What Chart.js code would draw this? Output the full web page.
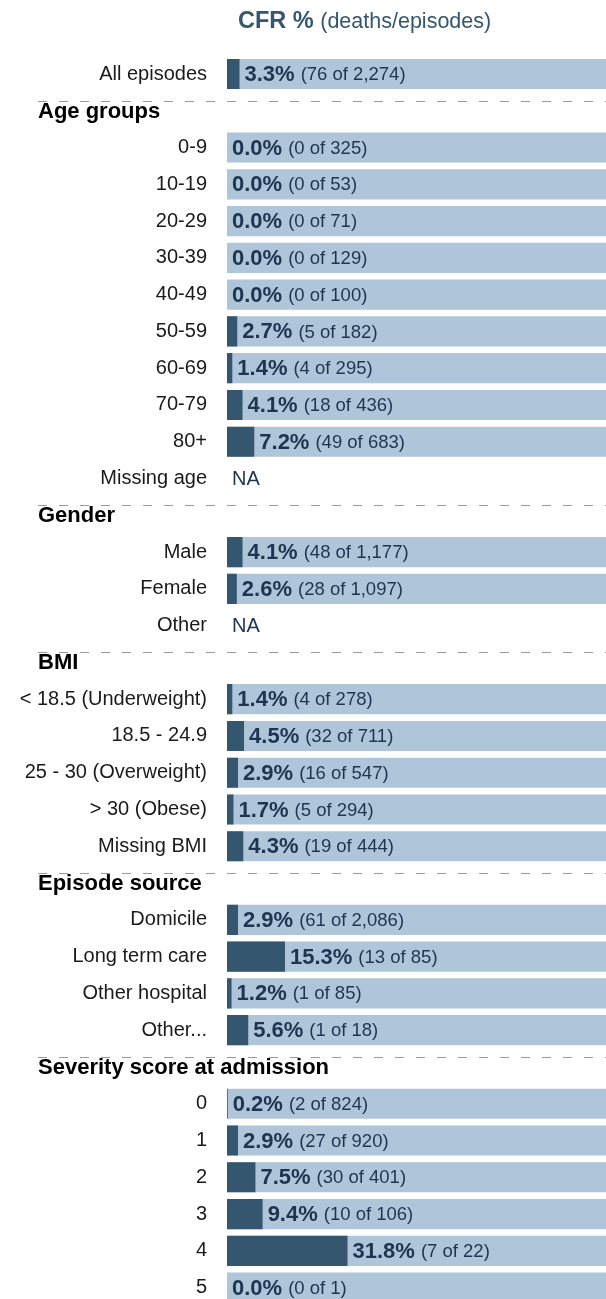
<!DOCTYPE html>
<html>
<head>
<meta charset="utf-8">
<script src="https://cdn.jsdelivr.net/npm/chart.js@4.4.0/dist/chart.umd.min.js"></script>
<style>
  html, body { margin: 0; padding: 0; background: #fff; overflow: hidden; }
  #frame { width: 606px; height: 1299px; overflow: hidden; position: relative; }
  canvas { display: block; }
</style>
</head>
<body>
<div id="frame"><canvas id="chart" width="606" height="1338"></canvas></div>
<script>
// rows top to bottom; section headers sit in their own row
const categories = [
  "All episodes",
  "Age groups", "0-9", "10-19", "20-29", "30-39", "40-49", "50-59", "60-69", "70-79", "80+", "Missing age",
  "Gender", "Male", "Female", "Other",
  "BMI", "< 18.5 (Underweight)", "18.5 - 24.9", "25 - 30 (Overweight)", "> 30 (Obese)", "Missing BMI",
  "Episode source", "Domicile", "Long term care", "Other hospital", "Other...",
  "Severity score at admission", "0", "1", "2", "3", "4", "5"
];
const headerRows = ["Age groups", "Gender", "BMI", "Episode source", "Severity score at admission"];

// null = header row or NA
const cfrPct = [
  3.3,
  null, 0.0, 0.0, 0.0, 0.0, 0.0, 2.7, 1.4, 4.1, 7.2, null,
  null, 4.1, 2.6, null,
  null, 1.4, 4.5, 2.9, 1.7, 4.3,
  null, 2.9, 15.3, 1.2, 5.6,
  null, 0.2, 2.9, 7.5, 9.4, 31.8, 0.0
];
const deaths = [
  76,
  null, 0, 0, 0, 0, 0, 5, 4, 18, 49, null,
  null, 48, 28, null,
  null, 4, 32, 16, 5, 19,
  null, 61, 13, 1, 1,
  null, 2, 27, 30, 10, 7, 0
];
const episodes = [
  2274,
  null, 325, 53, 71, 129, 100, 182, 295, 436, 683, null,
  null, 1177, 1097, null,
  null, 278, 711, 547, 294, 444,
  null, 2086, 85, 85, 18,
  null, 824, 920, 401, 106, 22, 1
];

const FONT = '"Liberation Sans", Arial, Helvetica, sans-serif';
const DARK = "#34576f";
const LIGHT = "#afc5da";
const NAVY = "#1e3450";

const fullBar = cfrPct.map((v) => (v === null ? null : 100));

const rowText = {
  id: "rowText",
  afterDatasetsDraw(chart) {
    const ctx = chart.ctx;
    const xs = chart.scales.x;
    const ys = chart.scales.y;
    ctx.save();
    ctx.textBaseline = "middle";

    // title
    ctx.textAlign = "left";
    ctx.fillStyle = DARK;
    ctx.font = "bold 23.5px " + FONT;
    ctx.fillText("CFR %", 238, 22);
    let w = ctx.measureText("CFR % ").width;
    ctx.font = "21.5px " + FONT;
    ctx.fillText("(deaths/episodes)", 238 + w, 22);

    categories.forEach((cat, i) => {
      const yc = ys.getPixelForValue(i);
      if (headerRows.includes(cat)) {
        ctx.strokeStyle = "#9a9a9a";
        ctx.lineWidth = 1;
        ctx.setLineDash([9, 12]);
        ctx.beginPath();
        ctx.moveTo(38, Math.round(yc - 10) + 0.5);
        ctx.lineTo(606, Math.round(yc - 10) + 0.5);
        ctx.stroke();
        ctx.setLineDash([]);
        ctx.fillStyle = "#000";
        ctx.font = "bold 22px " + FONT;
        ctx.fillText(cat, 38, yc + 1);
        return;
      }
      ctx.fillStyle = NAVY;
      if (cfrPct[i] === null) {
        ctx.font = "20px " + FONT;
        ctx.fillText("NA", xs.getPixelForValue(0) + 5, yc + 1);
        return;
      }
      const x0 = xs.getPixelForValue(cfrPct[i]) + 5;
      const pct = cfrPct[i].toFixed(1) + "%";
      ctx.font = "bold 22px " + FONT;
      ctx.fillText(pct, x0, yc + 1);
      const pw = ctx.measureText(pct).width;
      ctx.font = "18.5px " + FONT;
      ctx.fillText("(" + deaths[i].toLocaleString("en-US") + " of " + episodes[i].toLocaleString("en-US") + ")", x0 + pw + 6, yc + 1);
    });
    ctx.restore();
  }
};

const config = {
  type: "bar",
  data: {
    labels: categories,
    datasets: [
      {
        label: "CFR",
        data: cfrPct,
        backgroundColor: DARK,
        order: 0,
      },
      {
        label: "Episodes",
        data: fullBar,
        backgroundColor: LIGHT,
        order: 1,
      },
    ],
  },
  options: {
    indexAxis: "y",
    responsive: false,
    animation: false,
    layout: { padding: { top: 55.6, right: 0, bottom: 0, left: 0 } },
    datasets: {
      bar: { grouped: false, barPercentage: 0.82, categoryPercentage: 1, borderWidth: 0 },
    },
    scales: {
      x: { display: false, min: 0, max: 100 },
      y: {
        offset: true,
        grid: { display: false, drawTicks: false },
        border: { display: false },
        afterFit: (scale) => { scale.width = 227; },
        ticks: {
          autoSkip: false,
          padding: 20,
          crossAlign: "near",
          color: "#1a1a1a",
          font: { family: FONT, size: 20 },
          callback: (v, i) => (headerRows.includes(categories[i]) ? "" : categories[i]),
        },
      },
    },
    plugins: {
      legend: { display: false },
      tooltip: { enabled: false },
    },
  },
  plugins: [rowText],
};

const chart = new Chart(document.getElementById("chart"), config);
</script>
</body>
</html>
